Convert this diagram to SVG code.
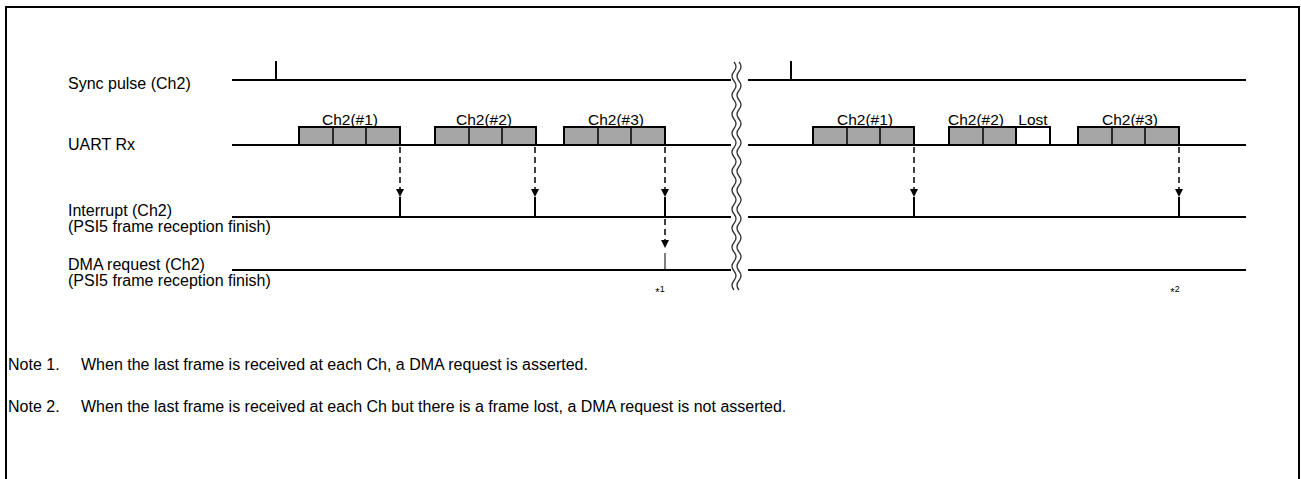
<svg xmlns="http://www.w3.org/2000/svg" width="1301" height="479" viewBox="0 0 1301 479">
<style>
text{font-family:"Liberation Sans",Arial,sans-serif;fill:#000}
.lbl{font-size:16px}
.fl{font-size:15.5px;text-anchor:middle}
.note{font-size:16px}
.sig{stroke:#000;stroke-width:2.2;fill:none}
.frm{fill:#a6a6a6;stroke:#000;stroke-width:2}
.lost{fill:#fff;stroke:#000;stroke-width:2}
.div{stroke:#000;stroke-width:1.5}
.dash{stroke:#000;stroke-width:1.5;stroke-dasharray:6 4;fill:none}
.pulse{stroke:#000;stroke-width:2}
.thin{stroke:#000;stroke-width:1}
.brk{stroke:#333;stroke-width:1.3;fill:none}
.star{font-size:11px;text-anchor:middle}
</style>
<defs>
<marker id="ah" viewBox="0 0 8 8" refX="8" refY="4" markerWidth="8" markerHeight="8" markerUnits="userSpaceOnUse" orient="auto">
<path d="M0 0 L8 4 L0 8 Z" fill="#000"/>
</marker>
</defs>
<rect x="6" y="7" width="1293" height="480" fill="none" stroke="#000" stroke-width="2"/>
<g id="labels">
<text class="lbl" x="68" y="89">Sync pulse (Ch2)</text>
<text class="lbl" x="68" y="150">UART Rx</text>
<text class="lbl" x="68" y="216">Interrupt (Ch2)</text>
<text class="lbl" x="68" y="232">(PSI5 frame reception finish)</text>
<text class="lbl" x="68" y="270">DMA request (Ch2)</text>
<text class="lbl" x="68" y="286">(PSI5 frame reception finish)</text>
</g>
<g id="sync">
<path class="sig" d="M232 80 H731 M748 80 H1246"/>
<path class="pulse" d="M276 80 V61 M791 80 V61"/>
</g>
<g id="uart">
<path class="sig" d="M232 145 H731 M748 145 H1246"/>
</g>
<g id="interrupt">
<path class="sig" d="M232 217 H731 M748 217 H1246"/>
<path class="pulse" d="M400 197 V217 M535 197 V217 M665 197 V217 M914 197 V217 M1179 197 V217"/>
</g>
<g id="dma">
<path class="sig" d="M232 270 H731 M748 270 H1246"/>
<path class="thin" d="M665 253 V270"/>
</g>
<g id="frame-L1">
<rect class="frm" x="299" y="127" width="101" height="18"/>
<path class="div" d="M333 127 V145 M366 127 V145"/>
<text class="fl" x="350" y="125">Ch2(#1)</text>
</g>
<g id="frame-L2">
<rect class="frm" x="435" y="127" width="101" height="18"/>
<path class="div" d="M469 127 V145 M502 127 V145"/>
<text class="fl" x="484" y="125">Ch2(#2)</text>
</g>
<g id="frame-L3">
<rect class="frm" x="564" y="127" width="101" height="18"/>
<path class="div" d="M598 127 V145 M631 127 V145"/>
<text class="fl" x="616" y="125">Ch2(#3)</text>
</g>
<g id="frame-R1">
<rect class="frm" x="813" y="127" width="101" height="18"/>
<path class="div" d="M847 127 V145 M880 127 V145"/>
<text class="fl" x="865" y="125">Ch2(#1)</text>
</g>
<g id="frame-R2">
<rect class="frm" x="949" y="127" width="67" height="18"/>
<rect class="lost" x="1016" y="127" width="34" height="18"/>
<path class="div" d="M983 127 V145"/>
<text class="fl" x="976" y="125">Ch2(#2)</text>
<text class="fl" x="1033" y="125">Lost</text>
</g>
<g id="frame-R3">
<rect class="frm" x="1078" y="127" width="101" height="18"/>
<path class="div" d="M1112 127 V145 M1145 127 V145"/>
<text class="fl" x="1130" y="125">Ch2(#3)</text>
</g>
<g id="connectors">
<path class="dash" d="M400 147 V197" marker-end="url(#ah)"/>
<path class="dash" d="M535 147 V197" marker-end="url(#ah)"/>
<path class="dash" d="M665 147 V197" marker-end="url(#ah)"/>
<path class="dash" d="M914 147 V197" marker-end="url(#ah)"/>
<path class="dash" d="M1179 147 V197" marker-end="url(#ah)"/>
<path class="dash" d="M665 219 V248" marker-end="url(#ah)"/>
</g>
<g id="break">
<path class="brk" d="M734 62 q4 4.75 0 9.5 q-4 4.75 0 9.5 q4 4.75 0 9.5 q-4 4.75 0 9.5 q4 4.75 0 9.5 q-4 4.75 0 9.5 q4 4.75 0 9.5 q-4 4.75 0 9.5 q4 4.75 0 9.5 q-4 4.75 0 9.5 q4 4.75 0 9.5 q-4 4.75 0 9.5 q4 4.75 0 9.5 q-4 4.75 0 9.5 q4 4.75 0 9.5 q-4 4.75 0 9.5 q4 4.75 0 9.5 q-4 4.75 0 9.5 q4 4.75 0 9.5 q-4 4.75 0 9.5 q4 4.75 0 9.5 q-4 4.75 0 9.5 q4 4.75 0 9.5 q-4 4.75 0 9.5"/>
<path class="brk" d="M739 62 q4 4.75 0 9.5 q-4 4.75 0 9.5 q4 4.75 0 9.5 q-4 4.75 0 9.5 q4 4.75 0 9.5 q-4 4.75 0 9.5 q4 4.75 0 9.5 q-4 4.75 0 9.5 q4 4.75 0 9.5 q-4 4.75 0 9.5 q4 4.75 0 9.5 q-4 4.75 0 9.5 q4 4.75 0 9.5 q-4 4.75 0 9.5 q4 4.75 0 9.5 q-4 4.75 0 9.5 q4 4.75 0 9.5 q-4 4.75 0 9.5 q4 4.75 0 9.5 q-4 4.75 0 9.5 q4 4.75 0 9.5 q-4 4.75 0 9.5 q4 4.75 0 9.5 q-4 4.75 0 9.5"/>
</g>
<g id="marks">
<text class="star" x="660" y="296">*<tspan dy="-4" font-size="9">1</tspan></text>
<text class="star" x="1175" y="296">*<tspan dy="-4" font-size="9">2</tspan></text>
</g>
<g id="notes">
<text class="note" x="8" y="370">Note 1.</text>
<text class="note" x="81" y="370">When the last frame is received at each Ch, a DMA request is asserted.</text>
<text class="note" x="8" y="412">Note 2.</text>
<text class="note" x="81" y="412">When the last frame is received at each Ch but there is a frame lost, a DMA request is not asserted.</text>
</g>
</svg>
